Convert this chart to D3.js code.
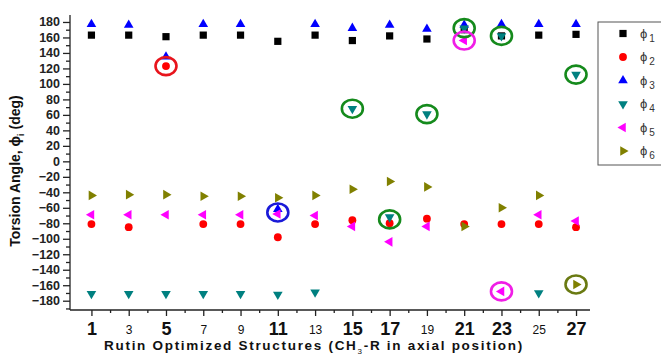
<!DOCTYPE html>
<html>
<head>
<meta charset="utf-8">
<script src="https://cdn.jsdelivr.net/npm/d3@7"></script>
<style>
body { margin: 0; background: #fff; }
text { font-family: Arial, "Liberation Sans", sans-serif; }
</style>
</head>
<body>
<script>
// structures on the x axis
var structures = [1, 3, 5, 7, 9, 11, 13, 15, 17, 19, 21, 23, 25, 27];
var boldLabels = [1, 5, 11, 15, 17, 21, 23, 27];
var yTicks = [180, 160, 140, 120, 100, 80, 60, 40, 20, 0, -20, -40, -60, -80, -100, -120, -140, -160, -180];

// torsion angles (deg), one value per structure
var phi1 = [163, 163, 161, 163, 163, 155, 163, 156, 162, 158, 170, 162, 163, 164];
var phi2 = [-81, -85, 123, -81, -81, -98, -81, -76, -80, -74, -81, -81, -81, -85];
var phi3 = [177, 176, 135, 177, 177, -62, 177, 172, 176, 171, 176, 177, 177, 177];
var phi4 = [-171, -171, -171, -171, -171, -172, -169, 68, -72, 61, 172, 162, -170, 112];
var phi5 = [-69, -69, -69, -69, -69, -68, -70, -84, -104, -84, 156, -168, -69, -77];
var phi6 = [-44, -43, -43, -45, -45, -47, -44, -36, -26, -33, -84, -60, -44, -159];

// highlighted points: [structure, angle, ring colour]
var ringX = [5, 11, 15, 17, 19, 21, 21, 23, 23, 27, 27];
var ringY = [123, -66, 68, -75, 61, 172, 156, 162, -168, 112, -159];
var ringColor = ["#e8141c", "#1a1ad8", "#158a1c", "#158a1c", "#158a1c", "#158a1c", "#f01ee6",
    "#158a1c", "#f01ee6", "#158a1c", "#6a7a12"];

var series = [
    { name: "1", values: phi1, color: "#000000", shape: d3.symbolSquare, size: 52, rot: 0 },
    { name: "2", values: phi2, color: "#ff0000", shape: d3.symbolCircle, size: 48, rot: 0 },
    { name: "3", values: phi3, color: "#0000ff", shape: d3.symbolTriangle, size: 40, rot: 0 },
    { name: "4", values: phi4, color: "#008080", shape: d3.symbolTriangle, size: 40, rot: 180 },
    { name: "5", values: phi5, color: "#ff00ff", shape: d3.symbolTriangle, size: 40, rot: -90 },
    { name: "6", values: phi6, color: "#808000", shape: d3.symbolTriangle, size: 40, rot: 90 }
];

var width = 661;
var height = 355;

var x = d3.scaleLinear()
    .domain([-0.15, 27.75])
    .range([70, 590]);
var y = d3.scaleLinear()
    .domain([-192, 189])
    .range([310, 15]);

var svg = d3.select("body")
    .append("svg")
    .attr("width", width)
    .attr("height", height);

// y axis
var yAxis = svg.append("g")
    .attr("transform", "translate(" + x.range()[0] + ",0)")
    .call(d3.axisLeft(y).tickValues(yTicks).tickSize(7).tickPadding(3));
svg.append("g")
    .attr("transform", "translate(" + x.range()[0] + ",0)")
    .call(d3.axisLeft(y).tickValues(d3.range(-190, 190, 20)).tickSize(4).tickFormat(""))
    .select(".domain").remove();
yAxis.selectAll("text")
    .style("font-size", "12.5px")
    .style("font-weight", "bold")
    .attr("fill", "#222");

// x axis
var xAxis = svg.append("g")
    .attr("transform", "translate(0," + y.range()[0] + ")")
    .call(d3.axisBottom(x).tickValues(structures).tickSize(6).tickPadding(5).tickFormat(d3.format("d")));
svg.append("g")
    .attr("transform", "translate(0," + y.range()[0] + ")")
    .call(d3.axisBottom(x).tickValues(d3.range(2, 28, 2)).tickSize(3).tickFormat(""))
    .select(".domain").remove();
xAxis.selectAll("text")
    .attr("fill", "#111")
    .attr("dy", function (d) { return boldLabels.indexOf(d) >= 0 ? "0.8em" : "1.1em"; })
    .style("font-size", function (d) { return boldLabels.indexOf(d) >= 0 ? "18px" : "12px"; })
    .style("font-weight", function (d) { return boldLabels.indexOf(d) >= 0 ? "bold" : "normal"; });
svg.selectAll(".domain, .tick line").attr("stroke", "#222").attr("stroke-width", 1.3);
yAxis.select(".domain").attr("d", "M0," + y.range()[0] + "V" + y.range()[1]);
xAxis.select(".domain").attr("d", "M" + x.range()[0] + ",0H" + x.range()[1]);

// axis titles
var yTitle = svg.append("text")
    .attr("transform", "translate(20," + 171 + ") rotate(-90)")
    .attr("text-anchor", "middle")
    .style("font-size", "14px")
    .style("font-weight", "bold")
    .attr("fill", "#111");
yTitle.append("tspan").text("Torsion Angle, \u03d5");
yTitle.append("tspan").attr("dy", 4).style("font-size", "9px").text("i");
yTitle.append("tspan").attr("dy", -4).text(" (deg)");

var xTitle = svg.append("text")
    .attr("x", 314)
    .attr("y", 350)
    .attr("text-anchor", "middle")
    .style("font-size", "13.5px")
    .style("letter-spacing", "1.7px")
    .attr("fill", "#111");
xTitle.append("tspan").style("font-weight", "bold").text("Rutin ");
xTitle.append("tspan").style("font-weight", "600").text("Optimized Structures (CH");
xTitle.append("tspan").attr("dy", 4).style("font-size", "8px").text("3");
xTitle.append("tspan").attr("dy", -4).style("font-weight", "600").text("-R in axial position)");

// points
series.forEach(function (s) {
    svg.append("g").selectAll("path")
        .data(s.values)
        .enter().append("path")
        .attr("d", d3.symbol().type(s.shape).size(s.size))
        .attr("transform", function (d, i) {
            return "translate(" + x(structures[i]) + "," + y(d) + ") rotate(" + s.rot + ")";
        })
        .attr("fill", s.color);
});

// highlight rings
svg.append("g").selectAll("ellipse")
    .data(ringX)
    .enter().append("ellipse")
    .attr("cx", function (d) { return x(d); })
    .attr("cy", function (d, i) { return y(ringY[i]); })
    .attr("rx", 10.5)
    .attr("ry", 9)
    .attr("fill", "none")
    .attr("stroke", function (d, i) { return ringColor[i]; })
    .attr("stroke-width", 2.6);

// legend
var legend = svg.append("g").attr("transform", "translate(598,22)");
legend.append("rect")
    .attr("width", 80)
    .attr("height", 143)
    .attr("fill", "#fff")
    .attr("stroke", "#555")
    .attr("stroke-width", 1);
var rows = legend.selectAll(".row")
    .data(series)
    .enter().append("g")
    .attr("class", "row")
    .attr("transform", function (d, i) { return "translate(0," + (11.5 + i * 23.5) + ")"; });
rows.append("path")
    .attr("d", function (d) { return d3.symbol().type(d.shape).size(d.size)(); })
    .attr("transform", function (d) { return "translate(25,0) rotate(" + d.rot + ")"; })
    .attr("fill", function (d) { return d.color; });
var lt = rows.append("text")
    .attr("x", 42)
    .attr("y", 4)
    .attr("fill", "#333")
    .style("font-size", "13px");
lt.append("tspan").text("\u03d5");
lt.append("tspan").attr("dx", 2).attr("dy", 4).style("font-size", "10px").text(function (d) { return d.name; });
</script>
</body>
</html>
